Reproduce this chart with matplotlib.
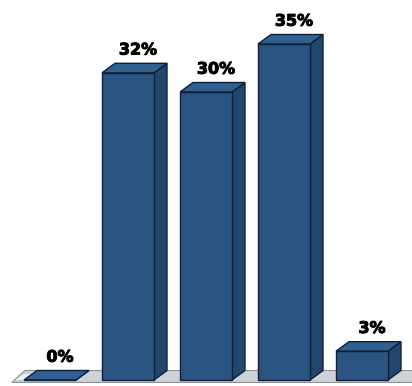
import matplotlib
matplotlib.use('Agg')
import matplotlib.pyplot as plt
import matplotlib.patheffects as pe
from matplotlib.patches import Polygon

# Dados do gráfico
categorias = ['A', 'B', 'C', 'D', 'E']
valores = [0, 32, 30, 35, 3]
rotulos = ['0%', '32%', '30%', '35%', '3%']

# Geometria (unidades dos eixos)
largura = 52 / 78      # largura da face frontal
prof_x = 13 / 78       # deslocamento da profundidade em x
prof_y = 0.99          # deslocamento da profundidade em y (%)

cor_frente = '#2a5481'
cor_lado = '#22476f'
cor_topo = '#30608f'
cor_borda = '#10203a'

fig = plt.figure(figsize=(4.12, 3.86), dpi=100)
ax = fig.add_axes([0, 0, 1, 1])
ax.set_xlim(-50 / 78, 362 / 78)
ax.set_ylim(-6 / 9.6, 380 / 9.6)
ax.axis('off')

# Piso cinza
x0, x1 = -0.49, len(valores) - 0.3
y0 = -0.25
piso = Polygon([(x0, y0), (x1, y0), (x1 + prof_x, y0 + prof_y * 1.25),
                (x0 + prof_x, y0 + prof_y * 1.25)],
               closed=True, facecolor='#cfd3d7', edgecolor='#8e9398', lw=0.8, zorder=1)
ax.add_patch(piso)
brilho = Polygon([(x0 + 0.05, y0 + 0.25), (x0 + 0.35, y0 + 0.25),
                  (x0 + 0.35 + prof_x * 0.6, y0 + 0.85), (x0 + 0.05 + prof_x * 0.6, y0 + 0.85)],
                 closed=True, facecolor='white', edgecolor='none', alpha=0.7, zorder=1)
ax.add_patch(brilho)

for i, (v, txt) in enumerate(zip(valores, rotulos)):
    esq = i - largura / 2
    dir_ = i + largura / 2
    frente = [(esq, 0), (dir_, 0), (dir_, v), (esq, v)]
    lado = [(dir_, 0), (dir_ + prof_x, prof_y), (dir_ + prof_x, v + prof_y), (dir_, v)]
    topo = [(esq, v), (dir_, v), (dir_ + prof_x, v + prof_y), (esq + prof_x, v + prof_y)]
    ax.add_patch(Polygon(lado, closed=True, facecolor=cor_lado, edgecolor=cor_borda, lw=1, zorder=2))
    ax.add_patch(Polygon(topo, closed=True, facecolor=cor_topo, edgecolor=cor_borda, lw=1, zorder=2))
    ax.add_patch(Polygon(frente, closed=True, facecolor=cor_frente, edgecolor=cor_borda, lw=1, zorder=3))
    ax.text(i + 10 / 78, v + prof_y + 0.6, txt, ha='center', va='bottom',
            fontsize=11.5, fontweight='bold', color='black', zorder=4,
            path_effects=[pe.withStroke(linewidth=0.7, foreground='black')])

fig.savefig('out.png', dpi=100, facecolor='white')
